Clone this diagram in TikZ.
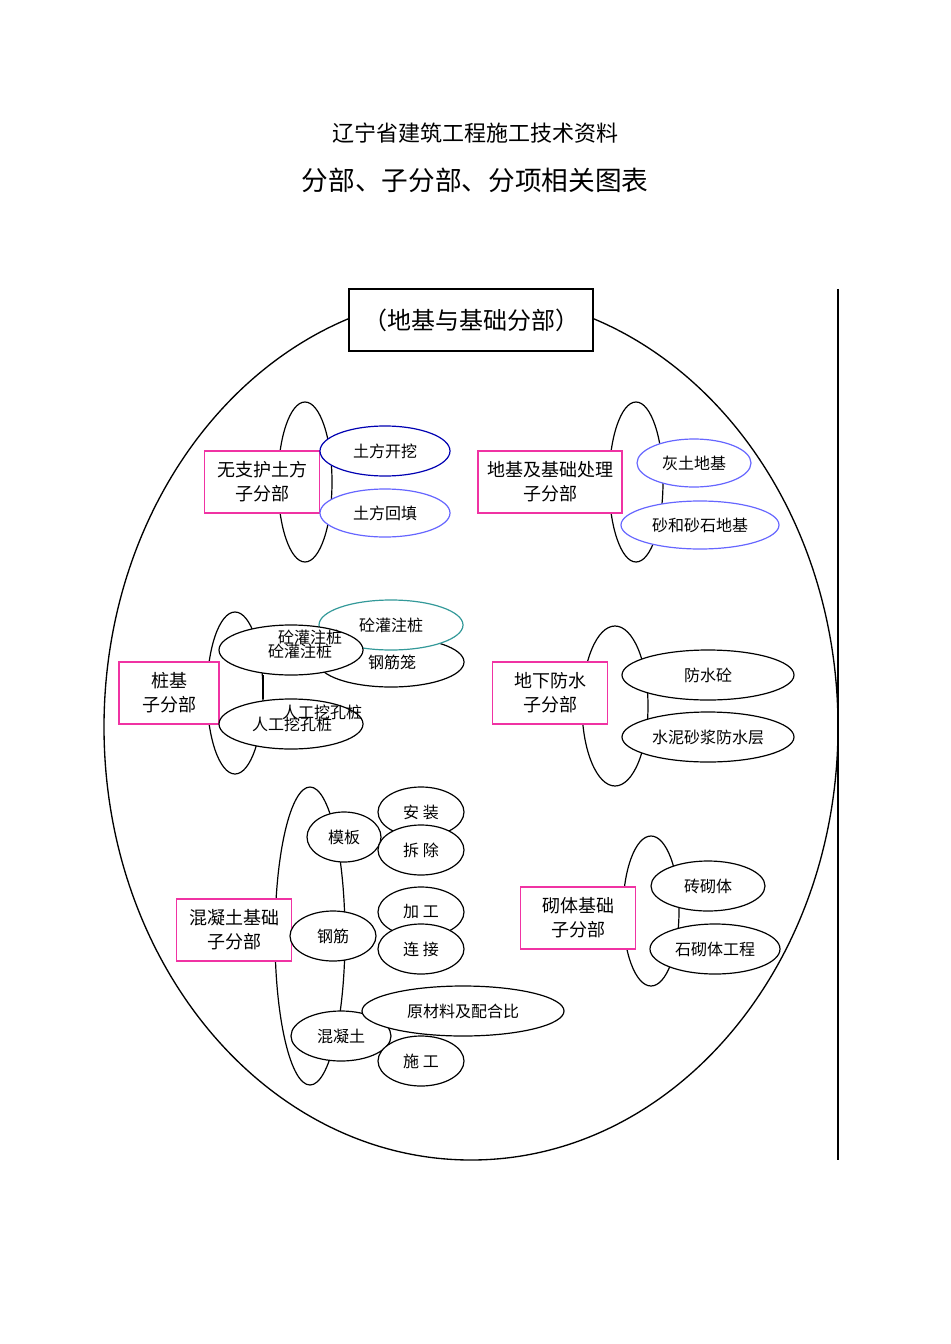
\documentclass[tikz,border=0pt]{standalone}
\usepackage{fontspec}
\setmainfont{Noto Sans CJK SC}
\usetikzlibrary{shapes.geometric}
\begin{document}
\begin{tikzpicture}[x=0.75pt,y=-0.75pt,
  ov/.style={draw=black,fill=white,ellipse,inner sep=0pt,font=\fontsize{12}{14}\selectfont,line width=0.9pt},
  bx/.style={draw=magenta!80!white,fill=white,line width=1pt,inner sep=0pt,font=\fontsize{13.5}{18}\selectfont,align=center},
  tl/.style={draw=black,line width=0.9pt},
  lbl/.style={font=\fontsize{12}{14}\selectfont,inner sep=0pt}]
\useasboundingbox (0,0) rectangle (950,1344);
\node (t1) at (475,133) {\fontsize{16.5}{20}\selectfont 辽宁省建筑工程施工技术资料};
\node (t2) at (475,180) {\fontsize{20}{24}\selectfont 分部、子分部、分项相关图表};
\draw[line width=0.8pt] (838,289) -- (838,1160);
\draw[line width=1pt] (471,727) ellipse (367 and 433);
\node[draw,fill=white,line width=1pt,minimum width=244*0.75pt,minimum height=62*0.75pt,font=\fontsize{18}{22}\selectfont] (main) at (471,320) {（地基与基础分部）};
% group 1
\draw[tl] (305,482) ellipse (27 and 80);
\node[bx,minimum width=115*0.75pt,minimum height=62*0.75pt] (g1) at (262,482) {无支护土方\\子分部};
\node[ov,draw=blue!70!black,minimum width=130*0.75pt,minimum height=50*0.75pt] (a1) at (385,451) {土方开挖};
\node[ov,draw=blue!60!white,minimum width=130*0.75pt,minimum height=48*0.75pt] (a2) at (385,513) {土方回填};
% group 2
\draw[tl] (636,482) ellipse (27 and 80);
\node[bx,minimum width=144*0.75pt,minimum height=62*0.75pt] (g2) at (550,482) {地基及基础处理\\子分部};
\node[ov,draw=blue!60!white,minimum width=114*0.75pt,minimum height=48*0.75pt] (b1) at (694,463) {灰土地基};
\node[ov,draw=blue!60!white,minimum width=158*0.75pt,minimum height=48*0.75pt] (b2) at (700,525) {砂和砂石地基};
% group 3
\draw[tl] (235,693) ellipse (28 and 81);
\node[bx,minimum width=100*0.75pt,minimum height=62*0.75pt] (g3) at (169,693) {桩基\\子分部};
\draw[tl] (263,675) -- (263,699);
\node[ov,minimum width=146*0.75pt,minimum height=50*0.75pt] (c2) at (391,662) {};
\node[lbl] (c2t) at (392,662) {钢筋笼};
\node[ov,draw=teal!80!white,minimum width=144*0.75pt,minimum height=50*0.75pt] (c1) at (391,625) {砼灌注桩};
\node[ov,minimum width=144*0.75pt,minimum height=50*0.75pt] (c3) at (291,650) {};
\node[lbl] (c3a) at (310,637) {砼灌注桩};
\node[lbl] (c3b) at (300,651) {砼灌注桩};
\node[ov,minimum width=144*0.75pt,minimum height=50*0.75pt] (c4) at (291,724) {};
\node[lbl] (c4a) at (322,712) {人工挖孔桩};
\node[lbl] (c4b) at (292,724) {人工挖孔桩};
% group 4
\draw[tl] (615,706) ellipse (33 and 80);
\node[bx,minimum width=115*0.75pt,minimum height=62*0.75pt] (g4) at (550,693) {地下防水\\子分部};
\node[ov,minimum width=172*0.75pt,minimum height=50*0.75pt] (d1) at (708,675) {防水砼};
\node[ov,minimum width=172*0.75pt,minimum height=50*0.75pt] (d2) at (708,737) {水泥砂浆防水层};
% group 5
\draw[tl] (310,936) ellipse (35 and 149);
\node[bx,minimum width=115*0.75pt,minimum height=62*0.75pt] (g5) at (234,930) {混凝土基础\\子分部};
\node[ov,minimum width=74*0.75pt,minimum height=50*0.75pt] (e1) at (344,837) {模板};
\node[ov,minimum width=86*0.75pt,minimum height=50*0.75pt] (e11) at (421,812) {安\ 装};
\node[ov,minimum width=86*0.75pt,minimum height=50*0.75pt] (e12) at (421,850) {拆\ 除};
\node[ov,minimum width=86*0.75pt,minimum height=50*0.75pt] (e2) at (333,936) {钢筋};
\node[ov,minimum width=86*0.75pt,minimum height=50*0.75pt] (e21) at (421,912) {加\ 工};
\node[ov,minimum width=86*0.75pt,minimum height=50*0.75pt] (e22) at (421,949) {连\ 接};
\node[ov,minimum width=100*0.75pt,minimum height=50*0.75pt] (e3) at (341,1036) {混凝土};
\node[ov,minimum width=86*0.75pt,minimum height=50*0.75pt] (e32) at (421,1061) {施\ 工};
\node[ov,minimum width=202*0.75pt,minimum height=50*0.75pt] (e31) at (463,1011) {原材料及配合比};
% group 6
\draw[tl] (651,911) ellipse (28 and 75);
\node[bx,minimum width=115*0.75pt,minimum height=62*0.75pt] (g6) at (578,918) {砌体基础\\子分部};
\node[ov,minimum width=114*0.75pt,minimum height=50*0.75pt] (f1) at (708,886) {砖砌体};
\node[ov,minimum width=130*0.75pt,minimum height=50*0.75pt] (f2) at (715,949) {石砌体工程};
\end{tikzpicture}
\end{document}
